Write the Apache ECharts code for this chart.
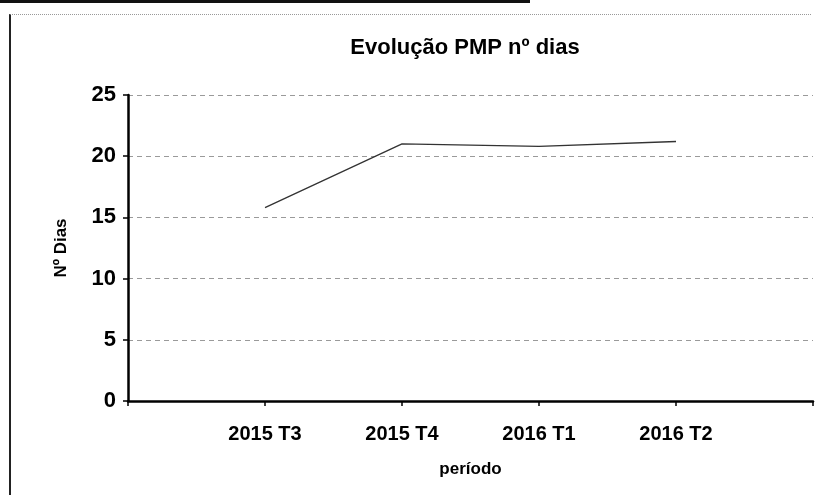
<!DOCTYPE html>
<html>
<head>
<meta charset="utf-8">
<title>Evolução PMP nº dias</title>
<script src="https://cdn.jsdelivr.net/npm/echarts@6/dist/echarts.min.js"></script>
<style>
  html, body { margin: 0; padding: 0; background: #fff; }
  #wrap { position: relative; width: 827px; height: 495px; overflow: hidden; }
  #topbar { position: absolute; left: 0; top: 0; width: 530px; height: 3px; background: #111; }
  #frame { position: absolute; left: 9px; top: 14px; width: 800px; height: 490px;
           border-left: 2px solid #222; border-top: 1px dotted #999; }
  #chart { position: absolute; left: 0; top: 0; width: 827px; height: 495px; }
</style>
</head>
<body>
<div id="wrap">
  <div id="topbar"></div>
  <div id="frame"></div>
  <div id="chart"></div>
</div>
<script type="text/javascript">
// periodos (primeira e ultima posicao vazias, como no original)
var categories = ['', '2015 T3', '2015 T4', '2016 T1', '2016 T2', ''];
var pmpDias = [null, 15.8, 21.0, 20.8, 21.2, null];
var yTicks = [0, 5, 10, 15, 20, 25];

var myChart = echarts.init(document.getElementById('chart'), null, { renderer: 'canvas' });
var font = '"Liberation Sans", Arial, sans-serif';

var option = {
    backgroundColor: 'transparent',
    animation: false,
    title: {
        text: 'Evolução PMP nº dias',
        left: 460,
        top: 32,
        textAlign: 'center',
        textStyle: { fontFamily: font, fontSize: 22, fontWeight: 'bold', color: '#000' }
    },
    grid: { left: 128, right: 14, top: 95, bottom: 94 },
    xAxis: {
        type: 'category',
        data: categories,
        boundaryGap: false,
        name: 'período',
        nameLocation: 'middle',
        nameGap: 60,
        nameTextStyle: { fontFamily: font, fontSize: 17, fontWeight: 'bold', color: '#000' },
        axisLine: { lineStyle: { color: '#000', width: 2.5 } },
        axisTick: { show: true, length: 5, lineStyle: { color: '#000', width: 1.5 } },
        axisLabel: { margin: 23, fontFamily: font, fontSize: 20, fontWeight: 'bold', color: '#000' },
        splitLine: { show: false }
    },
    yAxis: {
        type: 'value',
        min: yTicks[0],
        max: yTicks[yTicks.length - 1],
        interval: 5,
        name: 'Nº Dias',
        nameLocation: 'middle',
        nameGap: 58,
        nameRotate: 90,
        nameTextStyle: { fontFamily: font, fontSize: 17, fontWeight: 'bold', color: '#000' },
        axisLine: { show: true, lineStyle: { color: '#000', width: 2.5 } },
        axisTick: { show: true, length: 5, lineStyle: { color: '#000', width: 1.5 } },
        axisLabel: { margin: 12, fontFamily: font, fontSize: 22, fontWeight: 'bold', color: '#000' },
        splitLine: { show: true, lineStyle: { color: '#9a9a9a', width: 1, type: [5, 4] } }
    },
    series: [
        {
            name: 'PMP',
            type: 'line',
            data: pmpDias,
            connectNulls: false,
            showSymbol: false,
            symbol: 'none',
            lineStyle: { color: '#333', width: 1.3 }
        }
    ]
};

myChart.setOption(option);
</script>
</body>
</html>
